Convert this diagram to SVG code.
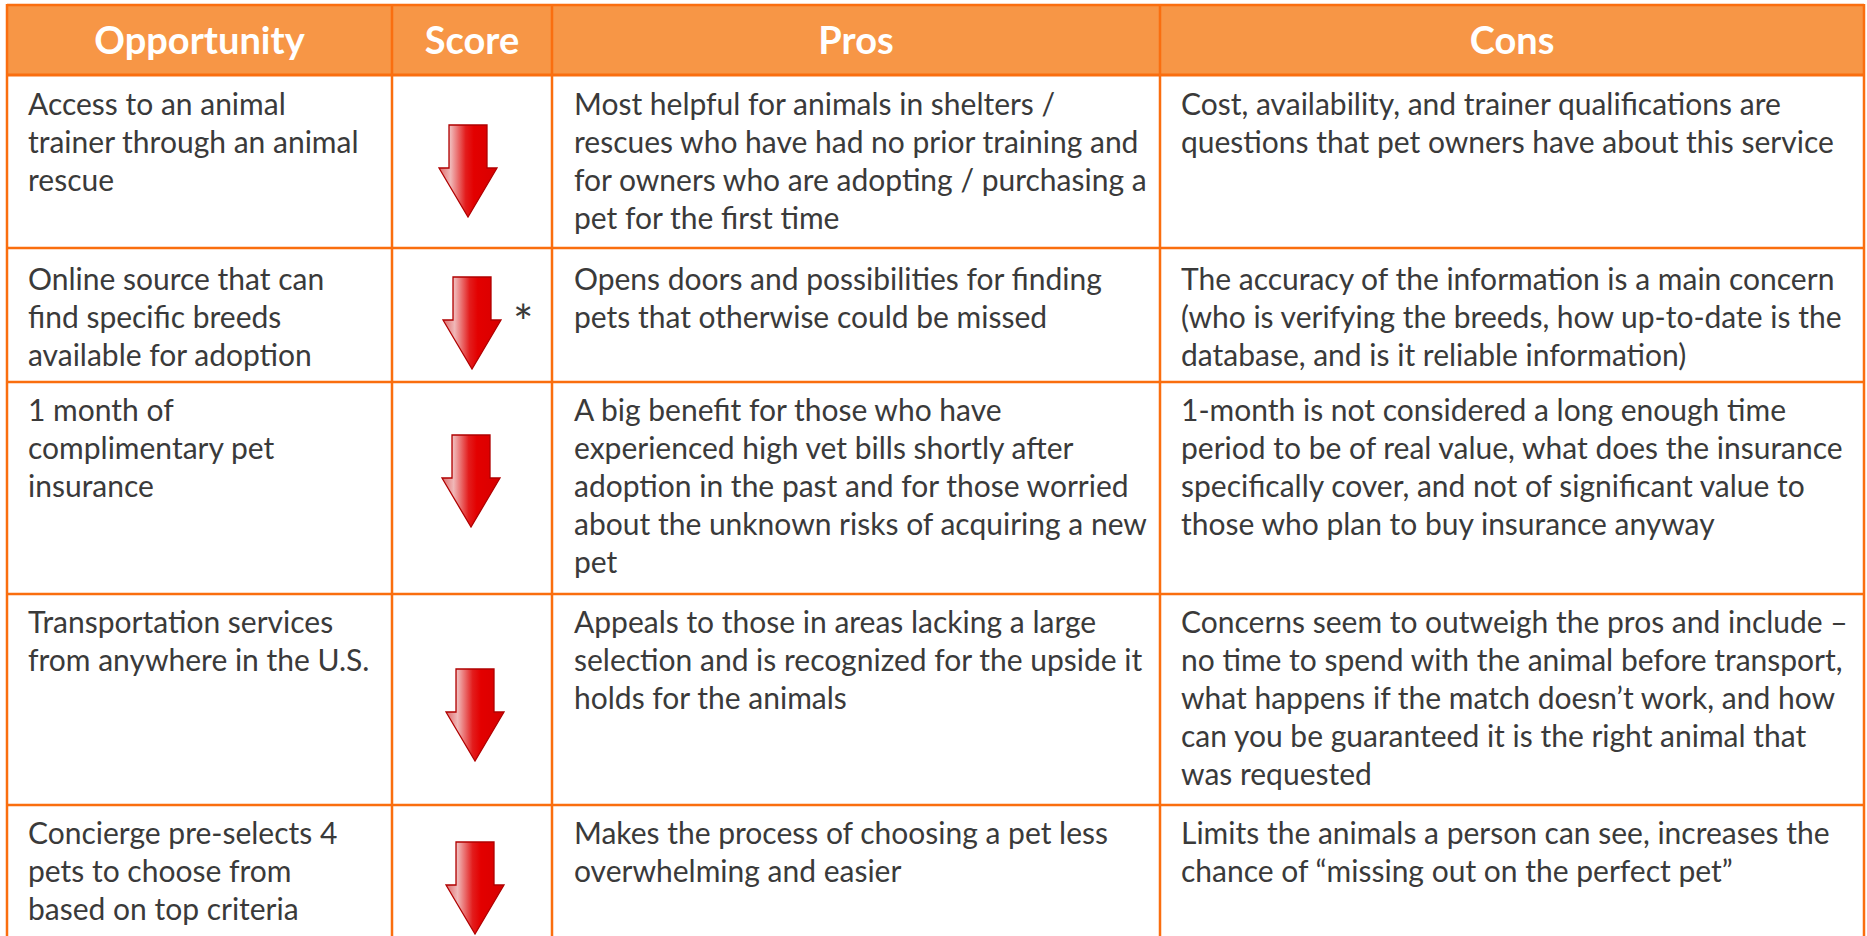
<svg xmlns="http://www.w3.org/2000/svg" width="1867" height="936" viewBox="0 0 1867 936">
<defs>
<linearGradient id="arrowFill" x1="0" y1="0" x2="1" y2="0">
<stop offset="0" stop-color="#de6a6a"/>
<stop offset="0.2" stop-color="#f0b8b8"/>
<stop offset="0.46" stop-color="#e31c1c"/>
<stop offset="0.6" stop-color="#e30000"/>
<stop offset="1" stop-color="#d80000"/>
</linearGradient>
<g id="downArrow"><path d="M -19 0 H 19 V 43 H 29 L 0 92 L -29 43 H -19 Z" fill="url(#arrowFill)" stroke="#b00000" stroke-width="1.3"/></g>
</defs>
<style>
.hdr{font-family:Lato,"Liberation Sans",sans-serif;font-weight:bold;font-size:38px;fill:#ffffff;text-anchor:middle}
.cell{font-family:Lato,"Liberation Sans",sans-serif;font-size:30px;fill:#3a3a3a}
.grid line{stroke:#fa6e0f;stroke-width:2.5}
</style>
<rect width="1867" height="936" fill="#ffffff"/>
<g id="header">
<rect x="7" y="5" width="1857" height="70" fill="#f79646"/>
<text class="hdr" x="199.5" y="54">Opportunity</text>
<text class="hdr" x="472" y="54">Score</text>
<text class="hdr" x="856" y="54">Pros</text>
<text class="hdr" x="1512" y="54">Cons</text>
</g>
<g id="row1">
<text class="cell" x="28" y="115">Access to an animal</text>
<text class="cell" x="28" y="153">trainer through an animal</text>
<text class="cell" x="28" y="191">rescue</text>
<use href="#downArrow" x="468" y="125"/>
<text class="cell" x="574" y="115">Most helpful for animals in shelters /</text>
<text class="cell" x="574" y="153">rescues who have had no prior training and</text>
<text class="cell" x="574" y="191">for owners who are adopting / purchasing a</text>
<text class="cell" x="574" y="229">pet for the first time</text>
<text class="cell" x="1181" y="115">Cost, availability, and trainer qualifications are</text>
<text class="cell" x="1181" y="153">questions that pet owners have about this service</text>
</g>
<g id="row2">
<text class="cell" x="28" y="290">Online source that can</text>
<text class="cell" x="28" y="328">find specific breeds</text>
<text class="cell" x="28" y="366">available for adoption</text>
<use href="#downArrow" x="472" y="277"/>
<text class="cell" x="513" y="340" style="font-size:48px">*</text>
<text class="cell" x="574" y="290">Opens doors and possibilities for finding</text>
<text class="cell" x="574" y="328">pets that otherwise could be missed</text>
<text class="cell" x="1181" y="290">The accuracy of the information is a main concern</text>
<text class="cell" x="1181" y="328">(who is verifying the breeds, how up-to-date is the</text>
<text class="cell" x="1181" y="366">database, and is it reliable information)</text>
</g>
<g id="row3">
<text class="cell" x="28" y="421">1 month of</text>
<text class="cell" x="28" y="459">complimentary pet</text>
<text class="cell" x="28" y="497">insurance</text>
<use href="#downArrow" x="471" y="435"/>
<text class="cell" x="574" y="421">A big benefit for those who have</text>
<text class="cell" x="574" y="459">experienced high vet bills shortly after</text>
<text class="cell" x="574" y="497">adoption in the past and for those worried</text>
<text class="cell" x="574" y="535">about the unknown risks of acquiring a new</text>
<text class="cell" x="574" y="573">pet</text>
<text class="cell" x="1181" y="421">1-month is not considered a long enough time</text>
<text class="cell" x="1181" y="459">period to be of real value, what does the insurance</text>
<text class="cell" x="1181" y="497">specifically cover, and not of significant value to</text>
<text class="cell" x="1181" y="535">those who plan to buy insurance anyway</text>
</g>
<g id="row4">
<text class="cell" x="28" y="633">Transportation services</text>
<text class="cell" x="28" y="671">from anywhere in the U.S.</text>
<use href="#downArrow" x="475" y="669"/>
<text class="cell" x="574" y="633">Appeals to those in areas lacking a large</text>
<text class="cell" x="574" y="671">selection and is recognized for the upside it</text>
<text class="cell" x="574" y="709">holds for the animals</text>
<text class="cell" x="1181" y="633">Concerns seem to outweigh the pros and include –</text>
<text class="cell" x="1181" y="671">no time to spend with the animal before transport,</text>
<text class="cell" x="1181" y="709">what happens if the match doesn’t work, and how</text>
<text class="cell" x="1181" y="747">can you be guaranteed it is the right animal that</text>
<text class="cell" x="1181" y="785">was requested</text>
</g>
<g id="row5">
<text class="cell" x="28" y="844">Concierge pre-selects 4</text>
<text class="cell" x="28" y="882">pets to choose from</text>
<text class="cell" x="28" y="920">based on top criteria</text>
<use href="#downArrow" x="475" y="842"/>
<text class="cell" x="574" y="844">Makes the process of choosing a pet less</text>
<text class="cell" x="574" y="882">overwhelming and easier</text>
<text class="cell" x="1181" y="844">Limits the animals a person can see, increases the</text>
<text class="cell" x="1181" y="882">chance of “missing out on the perfect pet”</text>
</g>
<g class="grid" id="grid">
<line x1="7" y1="5" x2="1864" y2="5"/>
<line x1="7" y1="75" x2="1864" y2="75" style="stroke-width:3"/>
<line x1="7" y1="248" x2="1864" y2="248"/>
<line x1="7" y1="382" x2="1864" y2="382"/>
<line x1="7" y1="594" x2="1864" y2="594"/>
<line x1="7" y1="805" x2="1864" y2="805"/>
<line x1="7" y1="4" x2="7" y2="936"/>
<line x1="392" y1="4" x2="392" y2="936"/>
<line x1="552" y1="4" x2="552" y2="936"/>
<line x1="1160" y1="4" x2="1160" y2="936"/>
<line x1="1864" y1="4" x2="1864" y2="936"/>
</g>
</svg>
